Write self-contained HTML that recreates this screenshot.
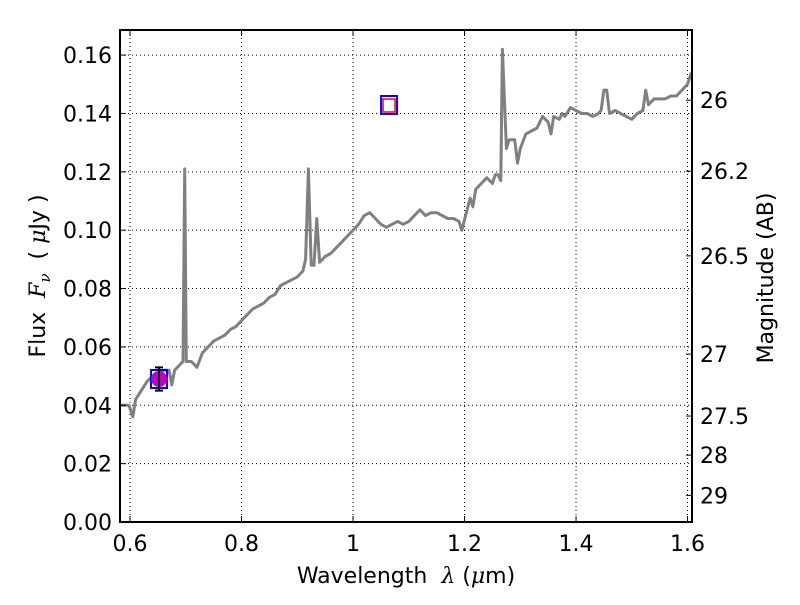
<!DOCTYPE html>
<html><head><meta charset="utf-8"><style>
body{margin:0;background:#fff}
svg text{font-family:"DejaVu Sans","Liberation Sans",sans-serif;fill:#000}
</style></head><body>
<svg id="chart" width="800" height="600" xmlns="http://www.w3.org/2000/svg">
<rect width="800" height="600" fill="#fff"/>
<g id="grid"></g>
<g id="series"></g>
<g id="axes"></g>
</svg>
<script>
const wavelengths=[0.583,0.598,0.6,0.605,0.61,0.62,0.63,0.64,0.66,0.67,0.675,0.68,0.69,0.695,0.698,0.701,0.71,0.72,0.73,0.74,0.75,0.76,0.77,0.78,0.79,0.80,0.81,0.82,0.83,0.84,0.85,0.86,0.87,0.88,0.89,0.90,0.91,0.915,0.92,0.925,0.93,0.935,0.94,0.95,0.96,0.97,0.98,0.99,1.0,1.01,1.02,1.03,1.04,1.05,1.06,1.07,1.08,1.09,1.10,1.11,1.12,1.13,1.14,1.15,1.16,1.17,1.18,1.19,1.195,1.21,1.215,1.22,1.23,1.24,1.25,1.255,1.26,1.265,1.268,1.275,1.28,1.29,1.295,1.30,1.31,1.32,1.33,1.34,1.35,1.355,1.36,1.37,1.375,1.38,1.39,1.40,1.41,1.42,1.43,1.44,1.445,1.45,1.455,1.46,1.47,1.48,1.49,1.50,1.51,1.52,1.525,1.53,1.54,1.55,1.56,1.57,1.58,1.59,1.60,1.607];
const fluxes=[0.040,0.040,0.039,0.036,0.042,0.045,0.048,0.050,0.052,0.052,0.047,0.052,0.054,0.055,0.121,0.055,0.055,0.053,0.058,0.060,0.062,0.063,0.064,0.066,0.067,0.069,0.071,0.073,0.074,0.075,0.077,0.078,0.081,0.082,0.083,0.084,0.086,0.090,0.121,0.088,0.088,0.104,0.089,0.091,0.092,0.094,0.096,0.098,0.100,0.102,0.105,0.106,0.104,0.102,0.101,0.102,0.103,0.102,0.103,0.105,0.107,0.105,0.106,0.106,0.105,0.104,0.104,0.103,0.100,0.111,0.108,0.114,0.116,0.118,0.116,0.119,0.119,0.117,0.162,0.128,0.131,0.131,0.123,0.128,0.133,0.134,0.135,0.139,0.137,0.133,0.139,0.138,0.140,0.139,0.142,0.141,0.140,0.140,0.139,0.140,0.141,0.148,0.148,0.140,0.141,0.140,0.139,0.138,0.140,0.141,0.148,0.143,0.145,0.145,0.145,0.146,0.146,0.148,0.150,0.154];
const photWave=[0.652];
const photFlux=[0.049];
const photErr=[0.004];
const modelWave=[1.0646];
const modelFlux=[0.1429];
const xTicks=[0.6,0.8,1.0,1.2,1.4,1.6];
const xTickLabels=["0.6","0.8","1","1.2","1.4","1.6"];
const yTicks=[0,0.02,0.04,0.06,0.08,0.10,0.12,0.14,0.16];
const yTickLabels=["0.00","0.02","0.04","0.06","0.08","0.10","0.12","0.14","0.16"];
const magTicks=[26,26.2,26.5,27,27.5,28,29];
const magTickLabels=["26","26.2","26.5","27","27.5","28","29"];

const L=120,R=692,T=30,B=522;
const xmin=0.582,xmax=1.608,ymin=0,ymax=0.1686;
const X=v=>L+(v-xmin)/(xmax-xmin)*(R-L);
const Y=v=>B-(v-ymin)/(ymax-ymin)*(B-T);
const magToFlux=m=>Math.pow(10,(23.9-m)/2.5);
const NS="http://www.w3.org/2000/svg";
function mk(tag,attrs,parent){const e=document.createElementNS(NS,tag);for(const k in attrs)e.setAttribute(k,attrs[k]);parent.appendChild(e);return e;}
const grid=document.getElementById('grid'),ser=document.getElementById('series'),ax=document.getElementById('axes');

xTicks.forEach((t,i)=>{
 const gl=mk('line',{x1:X(t),x2:X(t),y1:T,y2:B,stroke:'#000','stroke-width':1,'stroke-dasharray':'1,3'},grid);
 
 
 const tk=mk('line',{x1:X(t),x2:X(t),y1:B,y2:B-6,stroke:'#000'},ax);
 
 
 const tk2=mk('line',{x1:X(t),x2:X(t),y1:T,y2:T+6,stroke:'#000'},ax);
 
 
 const tx=mk('text',{x:X(t),y:B+29,'text-anchor':'middle','font-size':22},ax);
 tx.textContent=xTickLabels[i];
 
 
});
yTicks.forEach((t,i)=>{
 const gl=mk('line',{x1:L,x2:R,y1:Y(t),y2:Y(t),stroke:'#000','stroke-width':1,'stroke-dasharray':'1,3'},grid);
 
 
 const tk=mk('line',{x1:L,x2:L+6,y1:Y(t),y2:Y(t),stroke:'#000'},ax);
 
 
 const tx=mk('text',{x:L-8,y:Y(t)+8,'text-anchor':'end','font-size':22},ax);
 tx.textContent=yTickLabels[i];
 
 
});
magTicks.forEach((m,i)=>{
 const y=Y(magToFlux(m));
 const tk=mk('line',{x1:R,x2:R-6,y1:y,y2:y,stroke:'#000'},ax);
 
 
 const tx=mk('text',{x:R+8,y:y+8,'text-anchor':'start','font-size':22},ax);
 tx.textContent=magTickLabels[i];
 
 
});

const pts=wavelengths.map((w,i)=>X(w).toFixed(1)+','+Y(fluxes[i]).toFixed(1)).join(' ');
const cp=mk('clipPath',{id:'clip'},ser);mk('rect',{x:L,y:T,width:R-L,height:B-T},cp);
const line=mk('polyline',{points:pts,fill:'none',stroke:'#808080','stroke-width':3,'stroke-linejoin':'round','clip-path':'url(#clip)'},ser);



photWave.forEach((w,i)=>{
 const cx=X(w),cy=Y(photFlux[i]);
 const sq=mk('rect',{x:cx-8,y:cy-9,width:16,height:18,fill:'none',stroke:'#0000ff','stroke-width':2},ser);
 
 
 const c=mk('circle',{cx:cx,cy:cy,r:8,fill:'#bf00bf'},ser);
 
 
 const y1=Y(photFlux[i]+photErr[i]),y2=Y(photFlux[i]-photErr[i]);
 const eb=mk('path',{d:`M${cx},${y1}V${y2}M${cx-4},${y1}H${cx+4}M${cx-4},${y2}H${cx+4}`,stroke:'#000','stroke-width':2,fill:'none'},ser);
 
 
});
modelWave.forEach((w,i)=>{
 const cx=X(w),cy=Y(modelFlux[i]);
 const sq=mk('rect',{x:cx-8,y:cy-9,width:16,height:18,fill:'none',stroke:'#0000ff','stroke-width':2},ser);
 
 
 const sq2=mk('rect',{x:cx-6,y:cy-6,width:12,height:13,fill:'none',stroke:'#ff0000','stroke-width':1.5},ser);
 
 
});

const fr=mk('rect',{x:L,y:T,width:R-L,height:B-T,fill:'none',stroke:'#000','stroke-width':2},ax);


const xl=mk('text',{x:406,y:583,'text-anchor':'middle','font-size':22},ax);
xl.innerHTML='Wavelength &#160;<tspan font-style="italic" font-family="DejaVu Serif">λ</tspan> (<tspan font-style="italic" font-family="DejaVu Serif">μ</tspan>m)';


const yl=mk('text',{x:0,y:0,'text-anchor':'middle','font-size':22,transform:'translate(45,276) rotate(-90)'},ax);
yl.innerHTML='Flux &#160;<tspan font-style="italic" font-family="DejaVu Serif">F</tspan><tspan font-style="italic" font-family="DejaVu Serif" font-size="15" dy="5">ν</tspan><tspan dy="-5"> &#160;( </tspan><tspan font-style="italic" font-family="DejaVu Serif">μ</tspan>Jy )';


const ml=mk('text',{x:0,y:0,'text-anchor':'middle','font-size':22,transform:'translate(773,278) rotate(-90)'},ax);
ml.textContent='Magnitude (AB)';


</script>
</body></html>
